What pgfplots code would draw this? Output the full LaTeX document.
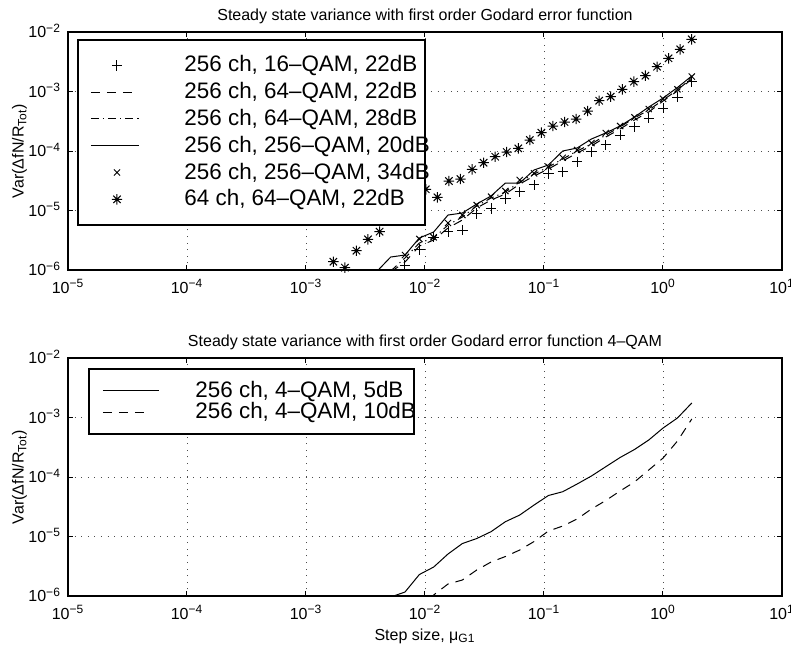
\documentclass[border=0pt]{standalone}
\usepackage{fontspec}
\setmainfont{Liberation Sans}
\usepackage{pgfplots}
\pgfplotsset{compat=1.18}
\pgfdeclareplotmark{mstar}{%
  \pgfpathmoveto{\pgfqpoint{-\pgfplotmarksize}{0pt}}%
  \pgfpathlineto{\pgfqpoint{\pgfplotmarksize}{0pt}}%
  \pgfpathmoveto{\pgfqpoint{0pt}{-\pgfplotmarksize}}%
  \pgfpathlineto{\pgfqpoint{0pt}{\pgfplotmarksize}}%
  \pgfpathmoveto{\pgfqpoint{-0.7071\pgfplotmarksize}{-0.7071\pgfplotmarksize}}%
  \pgfpathlineto{\pgfqpoint{0.7071\pgfplotmarksize}{0.7071\pgfplotmarksize}}%
  \pgfpathmoveto{\pgfqpoint{-0.7071\pgfplotmarksize}{0.7071\pgfplotmarksize}}%
  \pgfpathlineto{\pgfqpoint{0.7071\pgfplotmarksize}{-0.7071\pgfplotmarksize}}%
  \pgfusepathqstroke}
\newcommand\tenpow{\pgfmathtruncatemacro\myexp{round(\tick)}10\textsuperscript{\ifnum\myexp<0 −\number-\myexp\else\myexp\fi}}
\newcommand\smallfont{\fontsize{8}{9.6}\selectfont}
\pgfplotsset{
  myaxis/.style={
    scale only axis, width=357pt, height=119pt,
    log basis x=10, log basis y=10,
    xmin=1e-5, xmax=10, ymin=1e-6, ymax=1e-2,
    xtick={1e-5,1e-4,1e-3,1e-2,1e-1,1,10},
    ytick={1e-6,1e-5,1e-4,1e-3,1e-2},
    xticklabel={\tenpow}, yticklabel={\tenpow},
    tick align=inside,
    major tick length=2.5pt, minor tick length=1.4pt,
    grid=major,
    major grid style={black!70, line width=0.45pt, dash pattern=on 0.5pt off 2.8pt},
    axis line style={line width=1pt},
    every tick/.style={black, line width=0.5pt},
    tick label style={font=\smallfont},
    xticklabel style={anchor=base, yshift=-11.5pt},
    yticklabel style={anchor=base east, yshift=-2.9pt},
    label style={font=\smallfont},
    title style={font=\smallfont, at={(axis description cs:0.5,1)}, anchor=base, yshift=0pt},
    ylabel style={at={(axis description cs:-0.0623,0.5)}, anchor=base},
    ylabel={Var(ΔfN/R\textsubscript{Tot})},
    every axis plot/.append style={black, line width=0.5pt},
    legend cell align=left,
  },
  tline/.style={legend image code/.code={\path[draw=none] (0pt,0pt) -- (6.5pt,0pt); \draw[line width=0.5pt,##1] (6.5pt,0pt) -- (30.5pt,0pt);}},
  tmark/.style={legend image code/.code={\path[draw=none] (0pt,0pt) -- (30.5pt,0pt); \draw[line width=0.5pt,##1] plot coordinates {(19.5pt,0pt)};}},
  bline/.style={legend image code/.code={\path[draw=none] (0pt,0pt) -- (7pt,0pt); \draw[line width=0.5pt,##1] (7pt,0pt) -- (35pt,0pt);}},
  bdline/.style={legend image code/.code={\path[draw=none] (0pt,0pt) -- (35pt,0pt); \draw[line width=0.5pt,##1] (7pt,0pt) -- (31pt,0pt);}},
  dashedm/.style={dash pattern=on 4.5pt off 3.5pt},
  dashdotm/.style={dash pattern=on 4pt off 2pt on 0.6pt off 2pt},
}
\begin{document}
\begin{tikzpicture}
\useasboundingbox (0,0) rectangle (395.5pt,325pt);
\begin{loglogaxis}[myaxis, at={(34pt,190pt)}, anchor=south west,
  title={Steady state variance with first order Godard error function},
  legend style={at={(axis description cs:0.0126,0.9706)}, anchor=north west,
    font=\fontsize{11.2}{13}\selectfont, draw=black, line width=1pt, fill=white,
    inner xsep=0pt, inner ysep=7.4pt, row sep=2.9pt,
    nodes={inner sep=0pt, text height=8.5pt, text depth=2pt},
    /tikz/every odd column/.append style={column sep=22.5pt}},
]
\addplot[only marks, mark=+, mark size=2.6pt, tmark] coordinates {
(0.006792,1.213e-6)(0.008966,2.228e-6)(0.01183,3.548e-6)(0.01561,4.416e-6)(0.02061,4.699e-6)(0.02720,8.974e-6)(0.03589,1.089e-5)(0.04738,1.603e-5)(0.06252,2.070e-5)(0.08252,2.685e-5)(0.1089,4.217e-5)(0.1437,4.487e-5)(0.1897,6.607e-5)(0.2503,9.727e-5)(0.3304,1.262e-4)(0.4360,1.858e-4)(0.5754,2.559e-4)(0.7594,3.548e-4)(1.002,5.224e-4)(1.323,7.998e-4)(1.746,1.462e-3)};
\addlegendentry{\makebox[120.5pt][l]{256 ch, 16–QAM, 22dB}}
\addplot[dashedm, tline] coordinates {
(0.005146,9.25e-7)(0.006792,1.361e-6)(0.008966,2.529e-6)(0.01183,3.192e-6)(0.01561,5.082e-6)(0.02061,6.918e-6)(0.02720,1.102e-5)(0.03589,1.500e-5)(0.04738,1.892e-5)(0.06252,2.786e-5)(0.08252,3.802e-5)(0.1089,4.977e-5)(0.1437,6.792e-5)(0.1897,9.247e-5)(0.2503,1.213e-4)(0.3304,1.718e-4)(0.4360,2.344e-4)(0.5754,3.319e-4)(0.7594,4.519e-4)(1.002,6.918e-4)(1.323,1.019e-3)(1.746,1.622e-3)};
\addlegendentry{\makebox[120.5pt][l]{256 ch, 64–QAM, 22dB}}
\addplot[dashdotm, tline] coordinates {
(0.005146,9.6e-7)(0.006792,1.592e-6)(0.008966,2.844e-6)(0.01183,3.451e-6)(0.01561,5.702e-6)(0.02061,7.780e-6)(0.02720,1.191e-5)(0.03589,1.622e-5)(0.04738,2.046e-5)(0.06252,3.013e-5)(0.08252,4.102e-5)(0.1089,5.383e-5)(0.1437,7.345e-5)(0.1897,1.0e-4)(0.2503,1.312e-4)(0.3304,1.858e-4)(0.4360,2.529e-4)(0.5754,3.589e-4)(0.7594,4.887e-4)(1.002,7.194e-4)(1.323,1.059e-3)(1.746,1.687e-3)};
\addlegendentry{\makebox[120.5pt][l]{256 ch, 64–QAM, 28dB}}
\addplot[solid, tline] coordinates {
(0.003899,9.25e-7)(0.005146,1.652e-6)(0.006792,1.786e-6)(0.008966,3.451e-6)(0.01183,4.355e-6)(0.01561,8.395e-6)(0.02061,9.078e-6)(0.02720,1.285e-5)(0.03589,1.754e-5)(0.04738,2.897e-5)(0.06252,2.897e-5)(0.08252,4.797e-5)(0.1089,5.821e-5)(0.1437,1.0e-4)(0.1897,1.122e-4)(0.2503,1.592e-4)(0.3304,2.009e-4)(0.4360,2.630e-4)(0.5754,3.724e-4)(0.7594,5.483e-4)(1.002,7.780e-4)(1.323,1.167e-3)(1.746,1.824e-3)};
\addlegendentry{\makebox[120.5pt][l]{256 ch, 256–QAM, 20dB}}
\addplot[only marks, mark=x, mark size=2.2pt, tmark] coordinates {
(0.006792,1.786e-6)(0.008966,3.319e-6)(0.01183,3.548e-6)(0.01561,6.166e-6)(0.02061,8.395e-6)(0.02720,1.236e-5)(0.03589,1.706e-5)(0.04738,2.128e-5)(0.06252,3.258e-5)(0.08252,4.217e-5)(0.1089,5.445e-5)(0.1437,7.709e-5)(0.1897,1.040e-4)(0.2503,1.361e-4)(0.3304,2.009e-4)(0.4360,2.630e-4)(0.5754,3.681e-4)(0.7594,5.082e-4)(1.002,7.534e-4)(1.323,1.089e-3)(1.746,1.786e-3)};
\addlegendentry{\makebox[120.5pt][l]{256 ch, 256–QAM, 34dB}}
\addplot[only marks, mark=mstar, mark size=2.6pt, tmark] coordinates {
(0.001698,1.377e-6)(0.002123,1.094e-6)(0.002655,2.109e-6)(0.003319,3.281e-6)(0.004154,4.406e-6)(0.01016,2.270e-5)(0.01271,1.667e-5)(0.01589,3.133e-5)(0.01987,3.381e-5)(0.02489,4.920e-5)(0.03112,6.353e-5)(0.03890,8.017e-5)(0.04864,9.616e-5)(0.06081,1.109e-4)(0.07603,1.531e-4)(0.09506,2.032e-4)(0.1189,2.630e-4)(0.1489,3.069e-4)(0.1862,3.451e-4)(0.2328,4.699e-4)(0.2911,6.998e-4)(0.3639,8.185e-4)(0.4550,1.089e-3)(0.5689,1.462e-3)(0.7112,1.845e-3)(0.8913,2.612e-3)(1.114,3.614e-3)(1.393,5.117e-3)(1.742,7.534e-3)};
\addlegendentry{\makebox[120.5pt][l]{64 ch, 64–QAM, 22dB}}
\end{loglogaxis}
\begin{loglogaxis}[myaxis, at={(34pt,27pt)}, anchor=south west,
  title={Steady state variance with first order Godard error function 4–QAM},
  xlabel={Step size, μ\textsubscript{G1}},
  xlabel style={at={(axis description cs:0.5,-0.185)}, anchor=base},
  legend style={at={(axis description cs:0.028,0.958)}, anchor=north west,
    font=\fontsize{11.2}{13}\selectfont, draw=black, line width=1pt, fill=white,
    inner xsep=0pt, inner ysep=5.5pt, row sep=0.4pt,
    nodes={inner sep=0pt, text height=8.5pt, text depth=2pt},
    /tikz/every odd column/.append style={column sep=18pt}},
]
\addplot[solid, bline] coordinates {
(0.003899,7.62e-7)(0.005146,9.62e-7)(0.006792,1.167e-6)(0.008966,2.296e-6)(0.01183,3.069e-6)(0.01561,5.082e-6)(0.02061,7.621e-6)(0.02720,9.247e-6)(0.03589,1.205e-5)(0.04738,1.774e-5)(0.06252,2.296e-5)(0.08252,3.381e-5)(0.1089,4.887e-5)(0.1437,5.662e-5)(0.1897,7.621e-5)(0.2503,1.040e-4)(0.3304,1.489e-4)(0.4360,2.128e-4)(0.5754,2.897e-4)(0.7594,4.188e-4)(1.002,6.668e-4)(1.323,9.817e-4)(1.746,1.754e-3)};
\addlegendentry{\makebox[109.35pt][l]{256 ch, 4–QAM, 5dB}}
\addplot[dashedm, bdline] coordinates {
(0.008966,5.38e-7)(0.01183,1.040e-6)(0.01561,1.592e-6)(0.02061,1.858e-6)(0.02720,2.735e-6)(0.03589,3.724e-6)(0.04738,4.613e-6)(0.06252,5.929e-6)(0.08252,8.241e-6)(0.1089,1.236e-5)(0.1437,1.500e-5)(0.1897,1.968e-5)(0.2503,2.897e-5)(0.3304,4.027e-5)(0.4360,5.821e-5)(0.5754,8.241e-5)(0.7594,1.312e-4)(1.002,2.084e-4)(1.323,4.027e-4)(1.746,9.441e-4)};
\addlegendentry{\makebox[109.35pt][l]{256 ch, 4–QAM, 10dB}}
\end{loglogaxis}
\end{tikzpicture}
\end{document}
